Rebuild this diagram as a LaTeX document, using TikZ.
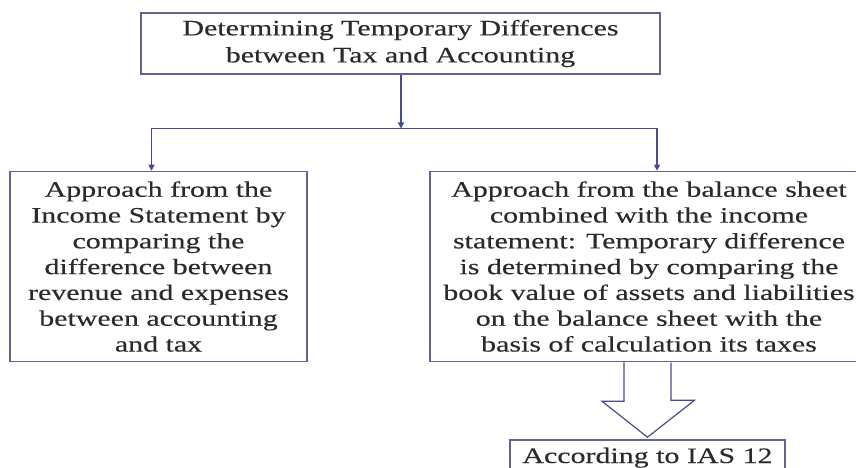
\documentclass[tikz,border=0pt]{standalone}
\usepackage{fontspec}
\setmainfont[FakeStretch=1.36,FakeBold=0.2]{Liberation Serif}
\usetikzlibrary{arrows.meta,calc}
\definecolor{boxline}{RGB}{100,100,142}
\definecolor{linkline}{RGB}{72,74,152}
\definecolor{ink}{RGB}{42,42,42}
\tikzset{
  x=1pt, y=-1pt,
  box/.style={draw=boxline, line width=1.6pt, fill=white, text=ink, align=center,
    inner sep=0pt, font=\fontsize{22}{25.8}\selectfont},
  link/.style={draw=linkline, line width=1.2pt, -{Triangle[length=6pt,width=6pt]}},
  plainlink/.style={draw=linkline, line width=1.2pt},
  blockarrow/.style={draw=linkline, line width=1.2pt, fill=white, line join=miter}
}
\begin{document}
\begin{tikzpicture}
\clip (0,0) rectangle (856,468);
\fill[white] (0,0) rectangle (856,468);

% decision boxes
\node[box, minimum width=519pt, minimum height=61pt, font=\fontsize{22}{27}\selectfont]
  (top) at (400.5,43.5)
  {Determining Temporary Differences\\between Tax and Accounting};
\node[box, minimum width=297pt, minimum height=190pt] (left) at (158.5,266.5)
  {Approach from the\\Income Statement by\\comparing the\\difference between\\revenue and expenses\\between accounting\\and tax};
\node[box, minimum width=438pt, minimum height=190pt] (right) at (649,266.5)
  {Approach from the balance sheet\\combined with the income\\statement: Temporary difference\\is determined by comparing the\\book value of assets and liabilities\\on the balance sheet with the\\basis of calculation its taxes};
\node[box, minimum width=275pt, text height=23pt, text depth=37pt, anchor=base]
  (ias) at (647.5,463) {According to IAS 12};

% split connector
\coordinate (split) at (401,128.5);
\coordinate (lcorner) at (151.5,128.5);
\coordinate (rcorner) at (657,128.5);
\draw[link] (top.south -| split) -- (split);
\draw[plainlink] (lcorner) -- (rcorner);
\draw[link] (lcorner) -- (lcorner |- left.north);
\draw[link] (rcorner) -- (rcorner |- right.north);

% hollow block arrow to the standard
\draw[blockarrow] (right.south -| ias.north) ++(-23.5,0) -- ++(0,39) -- ++(-22,0)
  -- ($(ias.north)+(0,-2)$) -- ++(47,-37) -- ++(-23.5,0) -- ++(0,-37.5);
\end{tikzpicture}
\end{document}
